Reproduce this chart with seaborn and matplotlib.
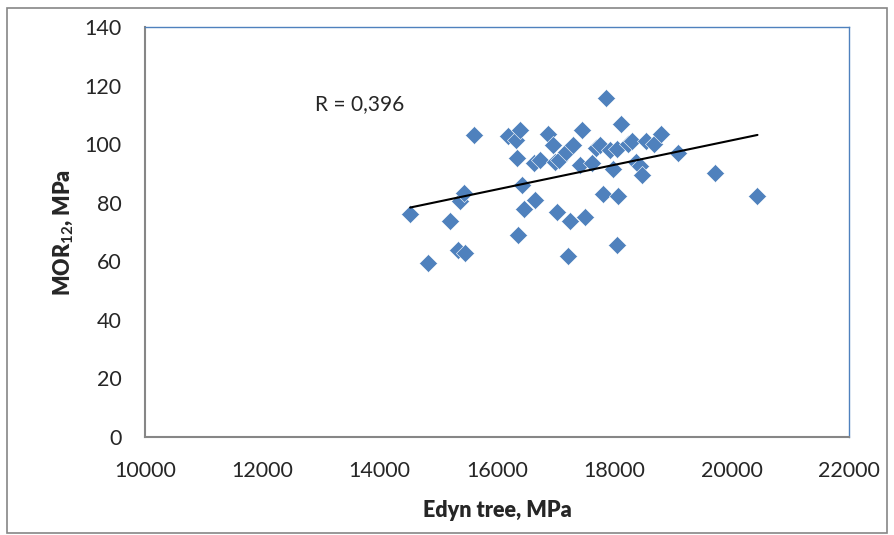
import numpy as np
import pandas as pd
import matplotlib
matplotlib.use("Agg")
import matplotlib.pyplot as plt
import seaborn as sns
from matplotlib.patches import Rectangle

# Datos (Edyn tree vs MOR12)
edyn = [14520, 14830, 15200, 15340, 15460, 15370, 15440, 15610, 16190, 16330,
        16390, 16340, 16360, 16430, 16460, 16650, 16630, 16740, 16870, 16960,
        16990, 17060, 17030, 17180, 17300, 17210, 17250, 17420, 17450, 17500,
        17620, 17690, 17760, 17810, 17860, 17930, 17980, 18050, 18050, 18070,
        18120, 18240, 18300, 18370, 18440, 18470, 18540, 18680, 18800, 19090,
        19720, 20440]
mor = [76.1, 59.3, 73.9, 63.9, 62.9, 80.6, 83.3, 103.1, 102.8, 101.4,
       104.8, 95.3, 69.0, 86.0, 77.8, 80.9, 93.5, 94.6, 103.4, 99.7,
       93.9, 94.6, 76.8, 97.3, 99.7, 61.8, 73.7, 92.9, 104.8, 75.1,
       93.5, 98.7, 99.7, 83.0, 115.7, 98.0, 91.5, 98.3, 65.6, 82.3,
       106.9, 100.0, 101.1, 93.9, 92.5, 89.4, 101.1, 100.0, 103.4, 97.0,
       90.1, 82.3]
r_texto = "R = 0,396"

df = pd.DataFrame({"Edyn": edyn, "MOR": mor})

sns.set_style("white")
plt.rcParams["font.family"] = ["Lato", "DejaVu Sans"]
plt.rcParams["mathtext.fontset"] = "custom"
plt.rcParams["mathtext.rm"] = "Lato"
plt.rcParams["mathtext.bf"] = "Lato:bold"

fig = plt.figure(figsize=(8.95, 5.35), dpi=100)
ax = fig.add_axes([0.162, 0.1832, 0.7866, 0.7663])

sns.scatterplot(data=df, x="Edyn", y="MOR", marker="D", s=85, color="#4F81BD",
                edgecolor="white", linewidth=0.4, ax=ax, zorder=3)

# Linea de tendencia lineal
coef = np.polyfit(df["Edyn"], df["MOR"], 1)
xs = np.array([df["Edyn"].min(), df["Edyn"].max()])
ax.plot(xs, np.polyval(coef, xs), color="black", linewidth=1.5, zorder=4)

ax.text(12900, 113.7, r_texto, fontsize=15, va="center", ha="left")

ax.set_xlim(10000, 22000)
ax.set_ylim(0, 140)
ax.set_xticks(np.arange(10000, 22001, 2000))
ax.set_yticks(np.arange(0, 141, 20))
ax.tick_params(axis="x", direction="in", length=6, color="#868686", pad=17, labelsize=15.5)
ax.tick_params(axis="y", length=0, pad=17, labelsize=15.5)

ax.set_xlabel("Edyn tree, MPa", fontsize=15.5, fontweight="heavy", labelpad=14)
ax.set_ylabel(r"MOR$_{\mathbf{12}}$, MPa", fontsize=15.5, fontweight="heavy", labelpad=6)

for lado in ["left", "bottom"]:
    ax.spines[lado].set_color("#868686")
    ax.spines[lado].set_linewidth(1.5)
for lado in ["top", "right"]:
    ax.spines[lado].set_color("#4F81BD")
    ax.spines[lado].set_linewidth(1.0)

# Borde exterior del grafico
fig.patches.append(Rectangle((0.008, 0.004), 0.983, 0.981, transform=fig.transFigure,
                             fill=False, edgecolor="#868686", linewidth=1.2))

fig.savefig("out.png", dpi=100)
